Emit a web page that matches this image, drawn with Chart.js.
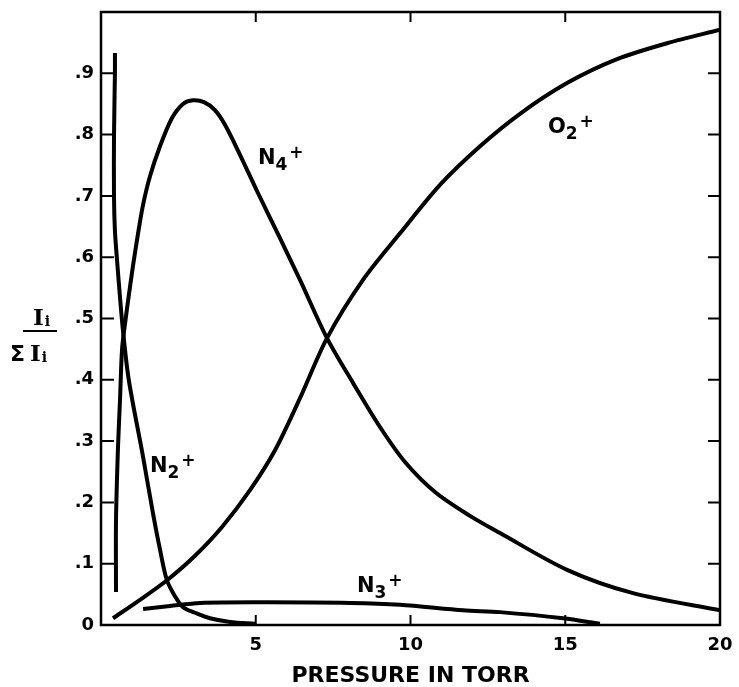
<!DOCTYPE html>
<html>
<head>
<meta charset="utf-8">
<script src="https://cdn.jsdelivr.net/npm/chart.js@4.4.0/dist/chart.umd.min.js"></script>
<style>
  html, body { margin: 0; padding: 0; background: #fff; }
  canvas { display: block; }
</style>
</head>
<body>
<canvas id="ionChart" width="739" height="687"></canvas>
<script>
// relative ion currents Ii / sum(Ii) against pressure (torr)
const n2Plus = [
  [0.45, 0.933], [0.45, 0.901], [0.42, 0.798], [0.42, 0.699], [0.45, 0.643],
  [0.52, 0.594], [0.61, 0.537], [0.71, 0.480], [0.90, 0.399], [1.36, 0.274],
  [1.68, 0.182], [1.91, 0.122], [2.13, 0.073], [2.39, 0.047], [2.65, 0.029],
  [3.04, 0.020], [3.52, 0.011], [4.17, 0.005], [4.98, 0.002]
];
const n4Plus = [
  [0.485, 0.054], [0.485, 0.171], [0.549, 0.290], [0.614, 0.367], [0.679, 0.449],
  [0.775, 0.491], [0.905, 0.540], [1.034, 0.586], [1.195, 0.638], [1.357, 0.685],
  [1.583, 0.732], [1.906, 0.781], [2.294, 0.827], [2.649, 0.850], [2.973, 0.856],
  [3.328, 0.853], [3.683, 0.840], [4.006, 0.816], [4.491, 0.767], [5.04, 0.708],
  [5.783, 0.631], [6.43, 0.563], [7.302, 0.468], [8.142, 0.395], [9.014, 0.323],
  [9.822, 0.266], [10.792, 0.217], [11.922, 0.178], [12.892, 0.150],
  [15.057, 0.090], [17.189, 0.052], [20.0, 0.024]
];
const o2Plus = [
  [0.388, 0.011], [1.26, 0.041], [2.132, 0.073], [3.037, 0.113], [3.91, 0.160],
  [4.814, 0.220], [5.622, 0.285], [6.43, 0.370], [7.302, 0.468], [8.465, 0.563],
  [9.661, 0.639], [10.953, 0.718], [12.246, 0.781], [13.538, 0.834],
  [15.057, 0.884], [16.672, 0.923], [18.288, 0.949], [20.0, 0.971]
];
const n3Plus = [
  [1.36, 0.026], [2.23, 0.031], [3.2, 0.036], [5.36, 0.037], [8.05, 0.036],
  [9.66, 0.033], [11.7, 0.024], [12.89, 0.021], [14.93, 0.011], [16.12, 0.002]
];

const xTicks = [5, 10, 15, 20];
const yTicks = [0, 0.1, 0.2, 0.3, 0.4, 0.5, 0.6, 0.7, 0.8, 0.9];

// curve names: [base, subscript, x, y]
const ionLabels = [
  ['N', '2', 1.58, 0.249],
  ['N', '4', 5.07, 0.752],
  ['O', '2', 14.44, 0.802],
  ['N', '3', 8.27, 0.054]
];

const FONT = '"DejaVu Sans", sans-serif';
const SERIF = '"DejaVu Serif", serif';

function toPoints(arr) {
  return arr.map(p => ({ x: p[0], y: p[1] }));
}

function curve(data) {
  return {
    data: toPoints(data),
    showLine: true,
    borderColor: '#000',
    borderWidth: 4,
    pointRadius: 0,
    tension: 0.3,
    fill: false
  };
}

// "I" with a small "i" after it
function drawIi(ctx, x, y) {
  ctx.font = 'bold 23px ' + SERIF;
  ctx.fillText('I', x, y);
  const w = ctx.measureText('I').width;
  ctx.font = 'bold 14px ' + SERIF;
  ctx.fillText('i', x + w + 1, y + 1);
}

// box, inward tick marks, curve names and the fraction on the y side
const decorations = {
  id: 'decorations',
  afterDraw(chart) {
    const { ctx, chartArea: a, scales: { x, y } } = chart;
    ctx.save();
    ctx.strokeStyle = '#000';
    ctx.lineWidth = 2.5;
    ctx.strokeRect(a.left, a.top, a.right - a.left, a.bottom - a.top);

    ctx.lineWidth = 2;
    ctx.beginPath();
    yTicks.filter(v => v > 0).forEach(v => {
      const py = y.getPixelForValue(v);
      ctx.moveTo(a.left, py); ctx.lineTo(a.left + 13, py);
      ctx.moveTo(a.right, py); ctx.lineTo(a.right - 12, py);
    });
    xTicks.filter(v => v < 20).forEach(v => {
      const px = x.getPixelForValue(v);
      ctx.moveTo(px, a.bottom); ctx.lineTo(px, a.bottom - 10);
      ctx.moveTo(px, a.top); ctx.lineTo(px, a.top + 10);
    });
    ctx.stroke();

    ctx.fillStyle = '#000';
    ctx.textBaseline = 'alphabetic';
    ctx.textAlign = 'left';
    ionLabels.forEach(([base, sub, vx, vy]) => {
      let px = x.getPixelForValue(vx);
      const py = y.getPixelForValue(vy);
      ctx.font = 'bold 21px ' + FONT;
      ctx.fillText(base, px, py);
      px += ctx.measureText(base).width;
      ctx.font = 'bold 17px ' + FONT;
      ctx.fillText(sub, px, py + 6);
      px += ctx.measureText(sub).width + 2;
      ctx.fillText('+', px, py - 6);
    });

    // y title: Ii over sum of Ii
    drawIi(ctx, 33, 325);
    ctx.font = 'bold 22px ' + FONT;
    ctx.fillText('\u03A3', 10, 361);
    drawIi(ctx, 30, 361);
    ctx.lineWidth = 2;
    ctx.beginPath();
    ctx.moveTo(23, 331); ctx.lineTo(57, 331);
    ctx.stroke();
    ctx.restore();
  }
};

const chart = new Chart(document.getElementById('ionChart').getContext('2d'), {
  type: 'scatter',
  data: {
    datasets: [curve(n2Plus), curve(n4Plus), curve(o2Plus), curve(n3Plus)]
  },
  options: {
    responsive: false,
    animation: false,
    layout: { padding: { top: 12, right: 19, bottom: 0, left: 0 } },
    plugins: {
      legend: { display: false },
      tooltip: { enabled: false }
    },
    scales: {
      x: {
        type: 'linear',
        min: 0,
        max: 20,
        afterBuildTicks: scale => { scale.ticks = xTicks.map(v => ({ value: v })); },
        afterFit: scale => {
          scale.height = 62;
          scale.paddingLeft = 0;
          scale.paddingRight = 0;
        },
        grid: { display: false, drawTicks: false },
        border: { display: false },
        ticks: {
          color: '#000',
          padding: 10,
          maxRotation: 0,
          font: { family: FONT, size: 18, weight: 'bold' }
        },
        title: {
          display: true,
          text: 'PRESSURE IN TORR',
          color: '#000',
          padding: { top: 0, bottom: 0 },
          font: { family: FONT, size: 22, weight: 'bold', lineHeight: 1 }
        }
      },
      y: {
        type: 'linear',
        min: 0,
        max: 1,
        afterBuildTicks: scale => { scale.ticks = yTicks.map(v => ({ value: v })); },
        afterFit: scale => {
          scale.width = 101;
          scale.paddingTop = 0;
          scale.paddingBottom = 0;
        },
        grid: { display: false, drawTicks: false },
        border: { display: false },
        ticks: {
          color: '#000',
          padding: 7,
          font: { family: FONT, size: 18, weight: 'bold' },
          callback: v => {
            const t = Math.round(v * 10);
            return t === 0 ? '0' : '.' + t;
          }
        }
      }
    }
  },
  plugins: [decorations]
});
</script>
</body>
</html>
